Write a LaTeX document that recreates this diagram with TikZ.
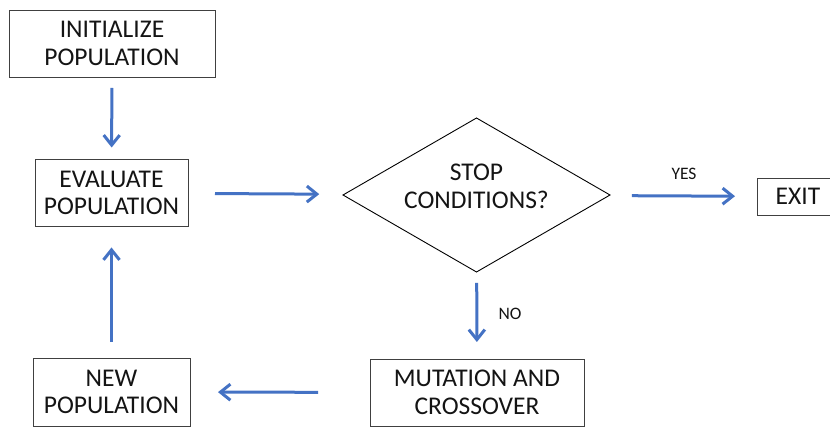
\documentclass[tikz,border=0pt]{standalone}
\usepackage{fontspec}
\setmainfont{Carlito}
\usetikzlibrary{arrows.meta, positioning, shapes.geometric}
\definecolor{flowblue}{RGB}{68, 114, 196}
\definecolor{boxline}{RGB}{64, 64, 64}
\definecolor{inktext}{RGB}{20, 20, 20}

\begin{document}
\begin{tikzpicture}[x=1pt, y=-1pt,
    box/.style={draw=boxline, line width=0.9pt, outer sep=0pt, inner sep=0pt,
                align=center, text=inktext,
                font=\fontsize{25.5}{27.5}\selectfont},
    flow/.style={flowblue, line width=3pt,
                 -{Straight Barb[length=10pt, width=16pt]}},
    tag/.style={text=inktext, font=\fontsize{17.5}{20}\selectfont}]
    \useasboundingbox[fill=white] (0,0) rectangle (830,427);

    % Boxes
    \node[box, minimum width=206pt, minimum height=67pt] (init) at (112, 43.5)
        {INITIALIZE\\POPULATION};
    \node[box, minimum width=153pt, minimum height=67pt] (eval) at (111.5, 193)
        {EVALUATE\\POPULATION};
    \node[box, minimum width=214pt, minimum height=67pt] (mut) at (477, 392.5)
        {MUTATION AND\\CROSSOVER};
    \node[box, minimum width=157pt, minimum height=68pt] (newpop) at (111.5, 392)
        {NEW\\POPULATION};
    \node[box, minimum width=82pt, minimum height=37pt] (exit) at (798, 196.5)
        {EXIT};

    % Decision
    \node[box, diamond, draw=black, aspect=1.73, minimum width=267pt,
          minimum height=154pt, text depth=18pt] (stop) at (476.5, 195)
        {STOP\\CONDITIONS?};

    % Arrows
    \draw[flow, shorten <=11pt, shorten >=12pt] (init) -- (eval);
    \draw[flow, shorten <=27pt, shorten >=25pt] (eval) -- (stop);
    \draw[flow, shorten <=23pt, shorten >=22pt] (stop) -- (exit);
    \draw[flow, shorten <=11pt, shorten >=17pt] (stop) -- (mut);
    \draw[flow, shorten <=52pt, shorten >=28pt] (mut) -- (newpop);
    \draw[flow, shorten <=16pt, shorten >=21pt] (newpop) -- (eval);

    % Labels
    \node[tag] (yes) at (684, 174) {YES};
    \node[tag] (no) at (510, 314) {NO};
\end{tikzpicture}
\end{document}
